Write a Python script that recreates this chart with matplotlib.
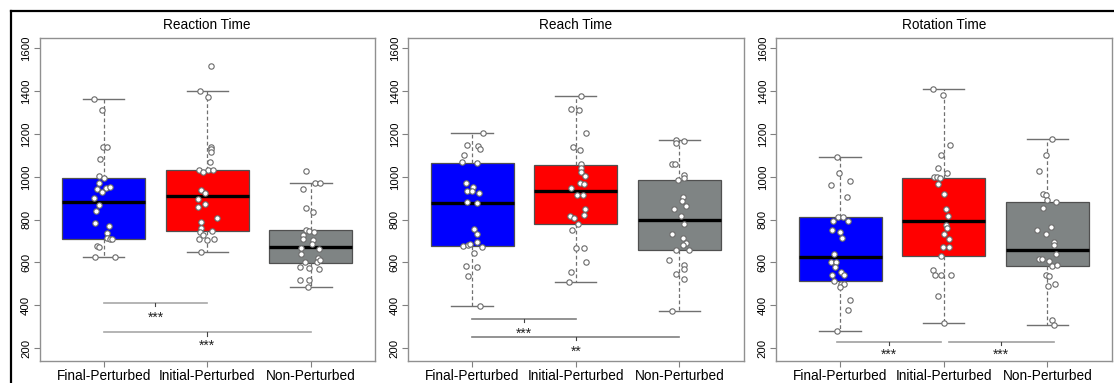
import numpy as np
import matplotlib
matplotlib.use("Agg")
import matplotlib.pyplot as plt
from matplotlib.lines import Line2D

plt.rcParams['font.family'] = ['Liberation Sans', 'DejaVu Sans']

groups = ['Final-Perturbed', 'Initial-Perturbed', 'Non-Perturbed']
titles = ['Reaction Time', 'Reach Time', 'Rotation Time']
box_colors = ['#0000ff', '#ff0000', '#7f8484']

# box stats: (whislo, q1, med, q3, whishi)
reaction_stats = [(624, 710, 882, 993, 1363), (650, 746, 909, 1032, 1400), (486, 598, 674, 749, 969)]
reach_stats = [(398, 676, 879, 1066, 1204), (509, 781, 934, 1055, 1377), (372, 657, 799, 987, 1171)]
rotation_stats = [(277, 515, 623, 810, 1094), (317, 632, 793, 996, 1411), (305, 582, 659, 882, 1175)]

# individual subjects (values, jitter)
reaction_final = [1363, 1310, 1140, 1140, 1085, 1004, 993, 973, 944, 948, 954, 930, 899, 866, 840, 782, 768, 735, 714, 707, 711, 676, 671, 624, 624]
reaction_final_j = [-0.09, -0.02, -0.01, 0.03, -0.04, -0.05, 0.0, -0.05, -0.06, 0.02, 0.06, -0.02, -0.09, -0.05, -0.07, -0.08, 0.05, 0.03, 0.03, 0.06, 0.08, -0.06, -0.05, -0.08, 0.11]
reaction_initial = [1520, 1399, 1371, 1141, 1130, 1116, 1069, 1032, 1032, 1030, 1022, 937, 923, 895, 873, 857, 809, 787, 760, 743, 746, 729, 709, 703, 709, 650]
reaction_initial_j = [0.04, -0.07, 0.01, 0.04, 0.04, 0.04, 0.03, -0.08, 0.01, 0.06, -0.04, -0.06, -0.02, -0.09, -0.02, -0.09, 0.09, -0.06, -0.06, -0.07, 0.05, -0.04, -0.08, 0.0, 0.07, -0.06]
reaction_non = [1027, 970, 971, 941, 854, 837, 751, 746, 743, 726, 709, 704, 687, 667, 663, 640, 621, 604, 600, 609, 578, 573, 570, 517, 517, 486]
reaction_non_j = [-0.05, 0.04, 0.09, -0.08, -0.05, 0.02, -0.05, -0.02, 0.03, -0.08, -0.08, 0.02, 0.01, -0.09, 0.08, -0.09, 0.07, -0.06, 0.06, 0.09, -0.1, -0.02, 0.08, -0.1, -0.02, -0.03]

reach_final = [1204, 1147, 1144, 1132, 1100, 1069, 1066, 971, 951, 934, 932, 923, 882, 876, 756, 734, 696, 676, 681, 687, 670, 645, 581, 579, 537, 398]
reach_final_j = [0.1, -0.05, 0.06, 0.08, -0.08, -0.1, 0.05, -0.06, 0.01, -0.05, 0.0, 0.07, -0.05, 0.05, 0.02, 0.05, 0.05, -0.09, -0.04, -0.02, 0.09, 0.02, -0.06, 0.05, -0.04, 0.08]
reach_initial = [1377, 1317, 1314, 1204, 1141, 1124, 1058, 1043, 1021, 1002, 969, 966, 949, 915, 916, 851, 821, 818, 809, 779, 753, 667, 667, 601, 553, 509]
reach_initial_j = [0.05, -0.05, 0.03, 0.1, -0.03, 0.04, 0.05, 0.05, 0.05, 0.09, 0.04, 0.08, -0.05, 0.01, 0.07, 0.09, 0.08, -0.06, -0.02, 0.02, -0.04, 0.0, 0.08, 0.1, -0.05, -0.07]
reach_non = [1171, 1166, 1157, 1062, 1060, 1010, 996, 987, 904, 887, 863, 848, 818, 781, 734, 715, 690, 681, 657, 657, 612, 587, 570, 545, 523, 372]
reach_non_j = [-0.03, 0.05, -0.03, -0.07, -0.04, 0.05, 0.05, -0.01, 0.04, 0.03, 0.06, -0.05, 0.02, 0.05, -0.07, 0.04, 0.06, 0.04, -0.03, 0.09, -0.1, 0.05, 0.05, -0.03, 0.05, -0.07]

rotation_final = [1094, 1017, 982, 962, 904, 814, 812, 795, 793, 753, 742, 712, 640, 604, 601, 579, 556, 540, 540, 515, 500, 500, 487, 423, 378, 277]
rotation_final_j = [-0.03, -0.01, 0.09, -0.09, 0.07, -0.02, 0.03, -0.07, 0.08, -0.08, 0.0, 0.02, -0.06, -0.09, -0.04, -0.05, 0.01, -0.08, 0.04, -0.06, 0.01, 0.04, 0.0, 0.09, 0.08, -0.03]
rotation_initial = [1411, 1381, 1149, 1101, 1040, 1019, 999, 999, 994, 968, 918, 849, 815, 773, 759, 731, 709, 674, 674, 632, 562, 540, 539, 543, 442, 317]
rotation_initial_j = [-0.1, -0.01, 0.06, -0.03, -0.06, 0.03, -0.09, -0.07, -0.04, -0.06, 0.0, 0.02, 0.04, 0.02, 0.03, 0.0, 0.05, -0.01, 0.05, -0.03, -0.1, -0.08, -0.03, 0.07, -0.06, 0.0]
rotation_non = [1175, 1101, 1026, 921, 913, 891, 882, 852, 767, 749, 734, 693, 681, 640, 615, 615, 606, 582, 590, 543, 537, 498, 489, 331, 305]
rotation_non_j = [0.05, -0.01, -0.08, -0.04, -0.01, 0.0, 0.08, -0.04, 0.04, -0.1, -0.01, 0.06, 0.06, 0.08, -0.08, -0.05, 0.02, 0.05, 0.09, -0.01, 0.02, 0.07, 0.01, 0.05, 0.06]

# significance bars: (x_start, x_end, y, tick_x, label, label_y)
reaction_sig = [(1, 2, 409, 1.5, '***', 354), (1, 3, 273, 2, '***', 220)]
reach_sig = [(1, 2, 336, 1.5, '***', 278), (1, 3, 252, 2, '**', 195)]
rotation_sig = [(0.97, 1.97, 227, 1.47, '***', 180), (2.05, 3.06, 227, 2.55, '***', 180)]

panels = [
    (reaction_stats, [(reaction_final, reaction_final_j), (reaction_initial, reaction_initial_j), (reaction_non, reaction_non_j)], reaction_sig, '#a8a8a8'),
    (reach_stats, [(reach_final, reach_final_j), (reach_initial, reach_initial_j), (reach_non, reach_non_j)], reach_sig, '#808080'),
    (rotation_stats, [(rotation_final, rotation_final_j), (rotation_initial, rotation_initial_j), (rotation_non, rotation_non_j)], rotation_sig, '#a0a0a0'),
]

W, H = 1114, 383
fig = plt.figure(figsize=(W / 100, H / 100), dpi=100)
lefts = [39.5, 408, 776]
ax_w = 335.5
ax_top, ax_bot = 37.5, 361

for i, (stats, pts, sig, sigcol) in enumerate(panels):
    ax = fig.add_axes([lefts[i] / W, 1 - ax_bot / H, ax_w / W, (ax_bot - ax_top) / H])
    bxstats = []
    for g, s in zip(groups, stats):
        bxstats.append(dict(label=g, whislo=s[0], q1=s[1], med=s[2], q3=s[3], whishi=s[4]))
    pos = np.arange(1, 4)
    res = ax.bxp(bxstats, positions=pos, widths=0.8, capwidths=0.4, patch_artist=True,
                 showfliers=False,
                 boxprops=dict(edgecolor='#505050', linewidth=0.9),
                 whiskerprops=dict(color='#707070', linestyle=(0, (3, 2)), linewidth=0.9),
                 capprops=dict(color='#707070', linewidth=1.0),
                 medianprops=dict(color='black', linewidth=2.4))
    for patch, c in zip(res['boxes'], box_colors):
        patch.set_facecolor(c)

    for k, (vals, jit) in enumerate(pts):
        ax.scatter(pos[k] + np.array(jit), vals, s=15, facecolor='white',
                   edgecolor='#6a6a6a', linewidth=0.8, zorder=4)

    for x0, x1, y, tx, lab, ly in sig:
        ax.plot([x0, x1], [y, y], color=sigcol, lw=1.2, zorder=2)
        ax.plot([tx, tx], [y, y - 15], color='#444444', lw=0.8, zorder=2)
        ax.text(tx, ly - 12, lab, ha='center', va='center', fontsize=10, color='#222222')

    ax.set_xlim(0.38, 3.62)
    ax.set_ylim(139, 1651)
    ax.set_yticks(range(200, 1601, 200))
    ax.set_xticks(pos)
    ax.set_xticklabels(groups, fontsize=9.8)
    ax.tick_params(axis='x', length=4.5, pad=1.5, color='#808080')
    ax.tick_params(axis='y', length=4.5, pad=1.5, color='#808080', labelsize=8.2)
    for t in ax.get_yticklabels():
        t.set_rotation(90)
        t.set_va('center')
    for sp in ax.spines.values():
        sp.set_color('#909090')
        sp.set_linewidth(1.0)
    ax.set_title(titles[i], fontsize=9.8, pad=6)

# outer frame (top and left edges visible)
ytop = 1 - 11 / H
xl = 11 / W
fig.add_artist(Line2D([xl, 1], [ytop, ytop], color='black', lw=1.6))
fig.add_artist(Line2D([xl, xl], [0, ytop], color='black', lw=1.6))

fig.savefig('out.png', dpi=100)
